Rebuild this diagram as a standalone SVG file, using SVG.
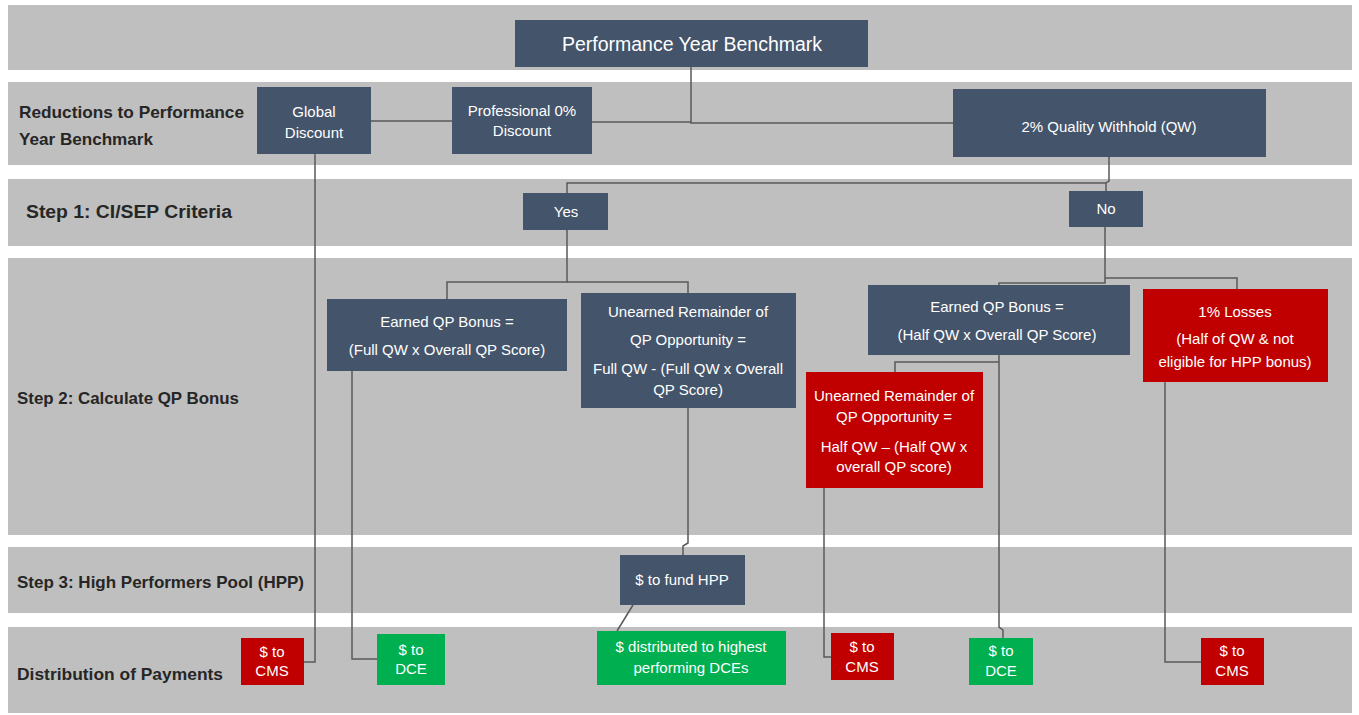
<svg xmlns="http://www.w3.org/2000/svg" width="1359" height="715" viewBox="0 0 1359 715">
<style>
.band{fill:#BFBFBF}
.n{fill:#44546A}
.r{fill:#C00000}
.g{fill:#00B050}
.t{font-family:"Liberation Sans",Arial,sans-serif;font-size:15px;fill:#FFFFFF;text-anchor:middle}
.big{font-size:19.5px}
.lb{font-family:"Liberation Sans",Arial,sans-serif;font-weight:bold;fill:#262626}
.c{fill:none;stroke:#595959;stroke-width:1.5}
</style>
<rect width="1359" height="715" fill="#FFFFFF"/>
<g id="bands">
<rect class="band" x="8" y="5" width="1344" height="65"/>
<rect class="band" x="8" y="82" width="1344" height="83"/>
<rect class="band" x="8" y="179" width="1344" height="67"/>
<rect class="band" x="8" y="258" width="1344" height="277"/>
<rect class="band" x="8" y="547" width="1344" height="66"/>
<rect class="band" x="8" y="627" width="1344" height="86"/>
</g>
<g id="row-labels">
<text class="lb" x="19" y="118" font-size="17" textLength="225" lengthAdjust="spacingAndGlyphs">Reductions to Performance</text>
<text class="lb" x="19" y="145" font-size="17" textLength="134" lengthAdjust="spacingAndGlyphs">Year Benchmark</text>
<text class="lb" x="26" y="218" font-size="18" textLength="206" lengthAdjust="spacingAndGlyphs">Step 1: CI/SEP Criteria</text>
<text class="lb" x="17" y="404" font-size="17" textLength="222" lengthAdjust="spacingAndGlyphs">Step 2: Calculate QP Bonus</text>
<text class="lb" x="17" y="588" font-size="17" textLength="287" lengthAdjust="spacingAndGlyphs">Step 3: High Performers Pool (HPP)</text>
<text class="lb" x="17" y="680" font-size="17" textLength="206" lengthAdjust="spacingAndGlyphs">Distribution of Payments</text>
</g>
<g id="connectors">
<polyline class="c" points="691,67 691,123 953,123"/>
<line class="c" x1="592" y1="122" x2="691" y2="122"/>
<line class="c" x1="371" y1="121" x2="452" y2="121"/>
<polyline class="c" points="315,154 315,662 304,662"/>
<polyline class="c" points="1109,157 1109,181 1106,183 1106,191"/>
<polyline class="c" points="1106,183 567,183 567,193"/>
<polyline class="c" points="567,230 567,282 447,282 447,299"/>
<polyline class="c" points="567,282 688,282 688,293"/>
<polyline class="c" points="1105,227 1105,283 999,283 999,285"/>
<polyline class="c" points="1105,278 1237,278 1237,289"/>
<polyline class="c" points="352,371 352,659 377,659"/>
<polyline class="c" points="688,408 688,543 683,546 683,555"/>
<line class="c" x1="633" y1="605" x2="617" y2="631"/>
<polyline class="c" points="999,355 999,627 1003,630 1003,638"/>
<polyline class="c" points="999,362 895,362 895,372"/>
<polyline class="c" points="824,488 824,657 831,657"/>
<polyline class="c" points="1165,382 1165,662 1201,662"/>
</g>
<g id="node-benchmark">
<rect class="n" x="515" y="20" width="353" height="47"/>
<text class="t big" x="692" y="51">Performance Year Benchmark</text>
</g>
<g id="node-global-discount">
<rect class="n" x="257" y="87" width="114" height="67"/>
<text class="t" x="314" y="117">Global</text>
<text class="t" x="314" y="138">Discount</text>
</g>
<g id="node-professional-discount">
<rect class="n" x="452" y="87" width="140" height="67"/>
<text class="t" x="522" y="116">Professional 0%</text>
<text class="t" x="522" y="136">Discount</text>
</g>
<g id="node-quality-withhold">
<rect class="n" x="953" y="89" width="313" height="68"/>
<text class="t" x="1109" y="132">2% Quality Withhold (QW)</text>
</g>
<g id="node-yes">
<rect class="n" x="523" y="193" width="85" height="37"/>
<text class="t" x="566" y="217">Yes</text>
</g>
<g id="node-no">
<rect class="n" x="1069" y="191" width="74" height="36"/>
<text class="t" x="1106" y="214">No</text>
</g>
<g id="node-earned-full">
<rect class="n" x="327" y="299" width="240" height="72"/>
<text class="t" x="447" y="327">Earned QP Bonus =</text>
<text class="t" x="447" y="355">(Full QW x Overall QP Score)</text>
</g>
<g id="node-unearned-full">
<rect class="n" x="581" y="293" width="215" height="115"/>
<text class="t" x="688" y="317">Unearned Remainder of</text>
<text class="t" x="688" y="345">QP Opportunity =</text>
<text class="t" x="688" y="374">Full QW - (Full QW x Overall</text>
<text class="t" x="688" y="395">QP Score)</text>
</g>
<g id="node-earned-half">
<rect class="n" x="868" y="285" width="262" height="70"/>
<text class="t" x="997" y="312">Earned QP Bonus =</text>
<text class="t" x="997" y="340">(Half QW x Overall QP Score)</text>
</g>
<g id="node-losses">
<rect class="r" x="1143" y="289" width="185" height="93"/>
<text class="t" x="1235" y="317">1% Losses</text>
<text class="t" x="1235" y="344">(Half of QW &amp; not</text>
<text class="t" x="1235" y="367">eligible for HPP bonus)</text>
</g>
<g id="node-unearned-half">
<rect class="r" x="806" y="372" width="177" height="116"/>
<text class="t" x="894" y="401">Unearned Remainder of</text>
<text class="t" x="894" y="422">QP Opportunity =</text>
<text class="t" x="894" y="452">Half QW – (Half QW x</text>
<text class="t" x="894" y="472">overall QP score)</text>
</g>
<g id="node-fund-hpp">
<rect class="n" x="620" y="555" width="125" height="50"/>
<text class="t" x="682" y="585">$ to fund HPP</text>
</g>
<g id="node-cms-1">
<rect class="r" x="241" y="638" width="63" height="47"/>
<text class="t" x="272" y="657">$ to</text>
<text class="t" x="272" y="676">CMS</text>
</g>
<g id="node-dce-1">
<rect class="g" x="377" y="634" width="68" height="51"/>
<text class="t" x="411" y="655">$ to</text>
<text class="t" x="411" y="674">DCE</text>
</g>
<g id="node-distributed">
<rect class="g" x="597" y="631" width="189" height="54"/>
<text class="t" x="691" y="652">$ distributed to highest</text>
<text class="t" x="691" y="673">performing DCEs</text>
</g>
<g id="node-cms-2">
<rect class="r" x="831" y="633" width="63" height="47"/>
<text class="t" x="862" y="652">$ to</text>
<text class="t" x="862" y="672">CMS</text>
</g>
<g id="node-dce-2">
<rect class="g" x="969" y="638" width="64" height="47"/>
<text class="t" x="1001" y="656">$ to</text>
<text class="t" x="1001" y="676">DCE</text>
</g>
<g id="node-cms-3">
<rect class="r" x="1201" y="638" width="63" height="47"/>
<text class="t" x="1232" y="656">$ to</text>
<text class="t" x="1232" y="676">CMS</text>
</g>
</svg>
